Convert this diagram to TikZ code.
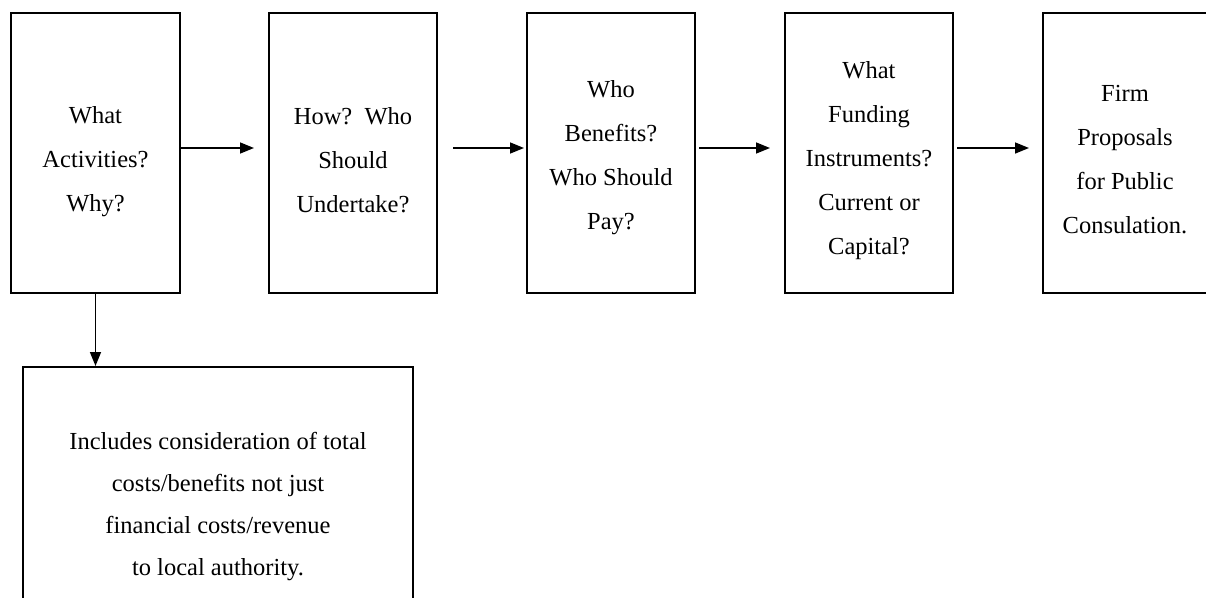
\documentclass[tikz,border=0pt]{standalone}
\usepackage{fontspec}
\setmainfont{Liberation Serif}
\usetikzlibrary{arrows.meta}
\begin{document}
\begin{tikzpicture}[x=1pt,y=-1pt,
  box/.style={draw=black, line width=2pt, minimum width=168pt, minimum height=280pt, inner sep=0pt},
  txt/.style={align=center, font=\fontsize{24.5}{44}\selectfont, inner sep=0pt, text=black},
  arr/.style={draw=black, line width=1.5pt, -{Triangle[length=14pt,width=11pt]}}]
\useasboundingbox (0,0) rectangle (1206,597);
\clip (0,0) rectangle (1206,597);
\fill[white] (0,0) rectangle (1206,597);
% boxes
\node[box, minimum width=169pt] (b1) at (95.5,153) {};
\node[box] (b2) at (353,153) {};
\node[box] (b3) at (611,153) {};
\node[box] (b4) at (869,153) {};
\node[box] (b5) at (1127,153) {};
\node[box, minimum width=390pt, minimum height=270pt] (b6) at (218,502) {};
% texts
\node[txt] (t1) at ([yshift=-9pt]b1.center) {What\\Activities?\\Why?};
\node[txt] (t2) at ([yshift=-7pt]b2.center) {How?\ \ Who\\Should\\Undertake?};
\node[txt] (t3) at ([yshift=-5pt]b3.center) {Who\\Benefits?\\Who Should\\Pay?};
\node[txt] (t4) at ([yshift=-8pt]b4.center) {What\\Funding\\Instruments?\\Current or\\Capital?};
\node[txt] (t5) at ([xshift=-2pt,yshift=-7pt]b5.center) {Firm\\Proposals\\for Public\\Consulation.};
\node[txt, font=\fontsize{24.5}{42}\selectfont] (t6) at (218,507) {Includes consideration of total\\costs/benefits not just\\financial costs/revenue\\to local authority.};
% connectors
\draw[arr, shorten >=14pt] ([yshift=5pt]b1.east) -- ([yshift=5pt]b2.west);
\draw[arr, shorten <=15pt, shorten >=2pt] ([yshift=5pt]b2.east) -- ([yshift=5pt]b3.west);
\draw[arr, shorten <=3pt, shorten >=14pt] ([yshift=5pt]b3.east) -- ([yshift=5pt]b4.west);
\draw[arr, shorten <=3pt, shorten >=13pt] ([yshift=5pt]b4.east) -- ([yshift=5pt]b5.west);
\draw[arr] (b1.south) -- (b1.south |- b6.north);
\end{tikzpicture}
\end{document}
